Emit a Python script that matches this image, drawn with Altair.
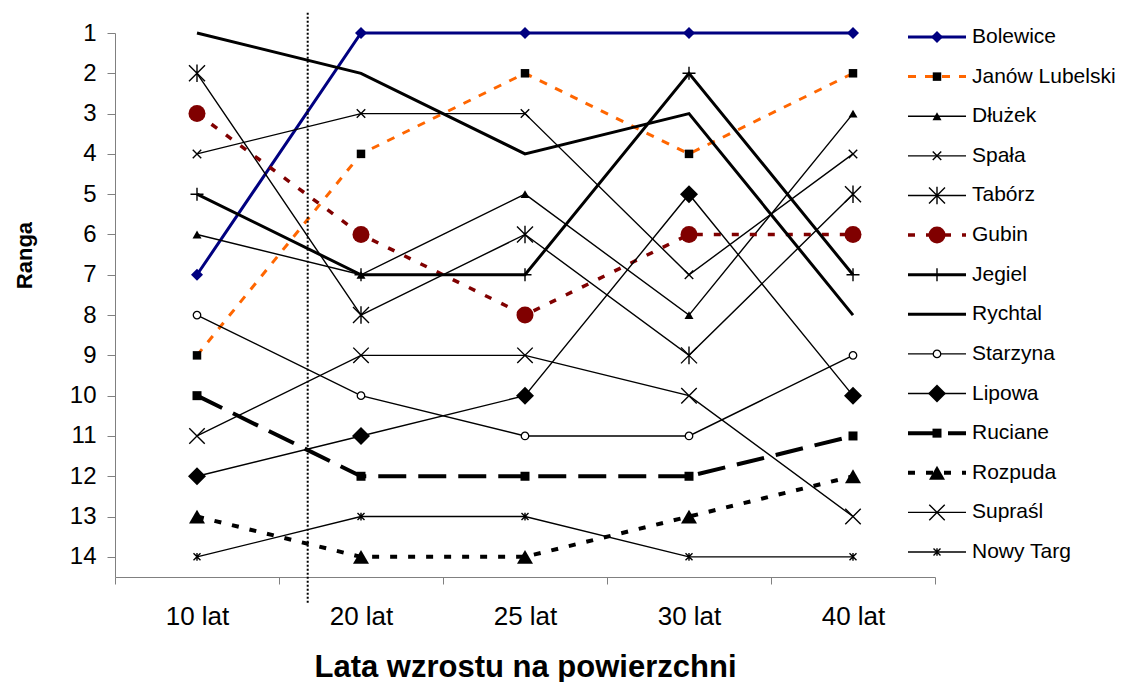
import altair as alt
import pandas as pd

# ---------------- data ----------------
categories = ["10 lat", "20 lat", "25 lat", "30 lat", "40 lat"]
names = ["Bolewice", "Janów Lubelski", "Dłużek", "Spała", "Tabórz", "Gubin", "Jegiel",
         "Rychtal", "Starzyna", "Lipowa", "Ruciane", "Rozpuda", "Supraśl", "Nowy Targ"]

bolewice = [7, 1, 1, 1, 1]
janow = [9, 4, 2, 4, 2]
dluzek = [6, 7, 5, 8, 3]
spala = [4, 3, 3, 7, 4]
taborz = [2, 8, 6, 9, 5]
gubin = [3, 6, 8, 6, 6]
jegiel = [5, 7, 7, 2, 7]
rychtal = [1, 2, 4, 3, 8]
starzyna = [8, 10, 11, 11, 9]
lipowa = [12, 11, 10, 5, 10]
ruciane = [10, 12, 12, 12, 11]
rozpuda = [13, 14, 14, 13, 12]
suprasl = [11, 9, 9, 10, 13]
nowy_targ = [14, 13, 13, 14, 14]

all_values = [bolewice, janow, dluzek, spala, taborz, gubin, jegiel,
              rychtal, starzyna, lipowa, ruciane, rozpuda, suprasl, nowy_targ]

y_ticks = list(range(1, 15))
divider_category = ["20 lat"]

# ---------------- styles ----------------
X_PATH = "M-1,-1L1,1M-1,1L1,-1"
STAR_PATH = "M-1,-1L1,1M-1,1L1,-1M0,-1.1L0,1.1"
PLUS_PATH = "M-1,0L1,0M0,-1L0,1"

styles = {
    "Bolewice":       dict(lc="#000080", lw=3,   dash=None,     shape="diamond",     mc="#000080", size=144, kind="fill"),
    "Janów Lubelski": dict(lc="#FF6600", lw=3,   dash=[8, 9],   shape="square",      mc="black",   size=72,  kind="fill"),
    "Dłużek":         dict(lc="black",   lw=1.4, dash=None,     shape="triangle-up", mc="black",   size=81,  kind="fill"),
    "Spała":          dict(lc="black",   lw=1.4, dash=None,     shape=X_PATH,        mc="black",   size=72,  kind="stroke"),
    "Tabórz":         dict(lc="black",   lw=1.4, dash=None,     shape=STAR_PATH,     mc="black",   size=256, kind="stroke"),
    "Gubin":          dict(lc="#800000", lw=3.5, dash=[7, 11],  shape="circle",      mc="#800000", size=289, kind="fill"),
    "Jegiel":         dict(lc="black",   lw=3,   dash=None,     shape=PLUS_PATH,     mc="black",   size=169, kind="stroke"),
    "Rychtal":        dict(lc="black",   lw=3,   dash=None,     shape=None,          mc="black",   size=0,   kind="none"),
    "Starzyna":       dict(lc="black",   lw=1.4, dash=None,     shape="circle",      mc="black",   size=56,  kind="open"),
    "Lipowa":         dict(lc="black",   lw=1.4, dash=None,     shape="diamond",     mc="black",   size=324, kind="fill"),
    "Ruciane":        dict(lc="black",   lw=4,   dash=[28, 12], shape="square",      mc="black",   size=81,  kind="fill"),
    "Rozpuda":        dict(lc="black",   lw=4,   dash=[7, 11],  shape="triangle-up", mc="black",   size=256, kind="fill"),
    "Supraśl":        dict(lc="black",   lw=1.4, dash=None,     shape=X_PATH,        mc="black",   size=240, kind="stroke"),
    "Nowy Targ":      dict(lc="black",   lw=1.4, dash=None,     shape=STAR_PATH,     mc="black",   size=49,  kind="stroke"),
}

FONT = "Liberation Sans"

xscale = alt.Scale(type="band", domain=categories, paddingInner=0, paddingOuter=0)
yscale = alt.Scale(domain=[1, 14.5], reverse=True, nice=False, zero=False)

xaxis = alt.Axis(title="Lata wzrostu na powierzchni", tickBand="extent", labelAngle=0, grid=False,
                 tickSize=7, labelPadding=32, labelBaseline="middle", labelFontSize=26,
                 labelColor="black", labelFont=FONT, titleFont=FONT, titleFontSize=31,
                 titleFontWeight="bold", titleColor="black", titleY=90, titleBaseline="middle",
                 domainColor="#808080", tickColor="#808080", domainWidth=1, tickWidth=1)
yaxis = alt.Axis(values=y_ticks, title="Ranga", grid=False, tickSize=8, labelPadding=11,
                 labelFontSize=24, labelColor="black", labelFont=FONT, titleFont=FONT,
                 titleFontSize=22, titleFontWeight="bold", titleColor="black",
                 titleX=-91, titleY=222, titleAlign="center", titleBaseline="middle",
                 domainColor="#808080", tickColor="#808080", domainWidth=1, tickWidth=1)


def point_mark(st):
    if st["kind"] == "fill":
        return dict(shape=st["shape"], size=st["size"], filled=True, color=st["mc"], opacity=1)
    if st["kind"] == "stroke":
        return dict(shape=st["shape"], size=st["size"], filled=False, color=st["mc"],
                    strokeWidth=1.4, opacity=1)
    return dict(shape=st["shape"], size=st["size"], fill="white", stroke=st["mc"],
                strokeWidth=1.3, opacity=1, fillOpacity=1)


def line_props(st):
    p = dict(color=st["lc"], strokeWidth=st["lw"])
    if st["dash"]:
        p["strokeDash"] = st["dash"]
    return p


# ---------------- main plot ----------------
main_layers = []
for name, vals in zip(names, all_values):
    st = styles[name]
    df = pd.DataFrame({"cat": categories, "rank": vals, "series": name})
    base = alt.Chart(df).encode(
        x=alt.X("cat:N", scale=xscale, axis=xaxis),
        y=alt.Y("rank:Q", scale=yscale, axis=yaxis),
    )
    main_layers.append(base.mark_line(**line_props(st)))
    if st["kind"] != "none":
        main_layers.append(base.mark_point(**point_mark(st)))

div_df = pd.DataFrame({"cat": divider_category, "top": [0.5], "bottom": [15.15]})
divider = alt.Chart(div_df).mark_rule(color="black", strokeWidth=2, strokeDash=[2, 2]).encode(
    x=alt.X("cat:N", bandPosition=0.175, scale=xscale, axis=xaxis),
    y=alt.Y("top:Q", scale=yscale, axis=yaxis),
    y2="bottom:Q",
)
main_layers.append(divider)
main = alt.layer(*main_layers)

# ---------------- legend ----------------
lxscale = alt.Scale(domain=[0, 1], range=[793, 851])
lyscale = alt.Scale(domain=[1, 14], range=[4, 519])

legend_layers = []
for i, name in enumerate(names):
    st = styles[name]
    ldf = pd.DataFrame({"lx0": [0], "lx1": [1], "lmid": [0.5], "ly": [i + 1]})
    rule_props = dict(color=st["lc"], strokeWidth=st["lw"])
    if st["dash"]:
        rule_props["strokeDash"] = st["dash"]
    legend_layers.append(
        alt.Chart(ldf).mark_rule(**rule_props).encode(
            x=alt.X("lx0:Q", scale=lxscale, axis=None), x2="lx1:Q",
            y=alt.Y("ly:Q", scale=lyscale, axis=None))
    )
    if st["kind"] != "none":
        legend_layers.append(
            alt.Chart(ldf).mark_point(**point_mark(st)).encode(
                x=alt.X("lmid:Q", scale=lxscale, axis=None),
                y=alt.Y("ly:Q", scale=lyscale, axis=None))
        )

label_df = pd.DataFrame({"label": names, "ly": list(range(1, len(names) + 1)), "lx1": [1] * len(names)})
legend_layers.append(
    alt.Chart(label_df).mark_text(align="left", baseline="middle", fontSize=21, font=FONT,
                                  color="black", dx=6).encode(
        x=alt.X("lx1:Q", scale=lxscale, axis=None),
        y=alt.Y("ly:Q", scale=lyscale, axis=None),
        text="label:N")
)
legend = alt.layer(*legend_layers)

chart = alt.layer(main, legend).resolve_scale(x="independent", y="independent").properties(
    width=820, height=544,
    padding={"left": 115, "top": 33, "right": 197, "bottom": 105},
    autosize=alt.AutoSizeParams(type="none"),
    background="white",
).configure_view(stroke=None).configure_text(font=FONT)

chart.save("out.html", embed_options={"renderer": "svg", "actions": False})
